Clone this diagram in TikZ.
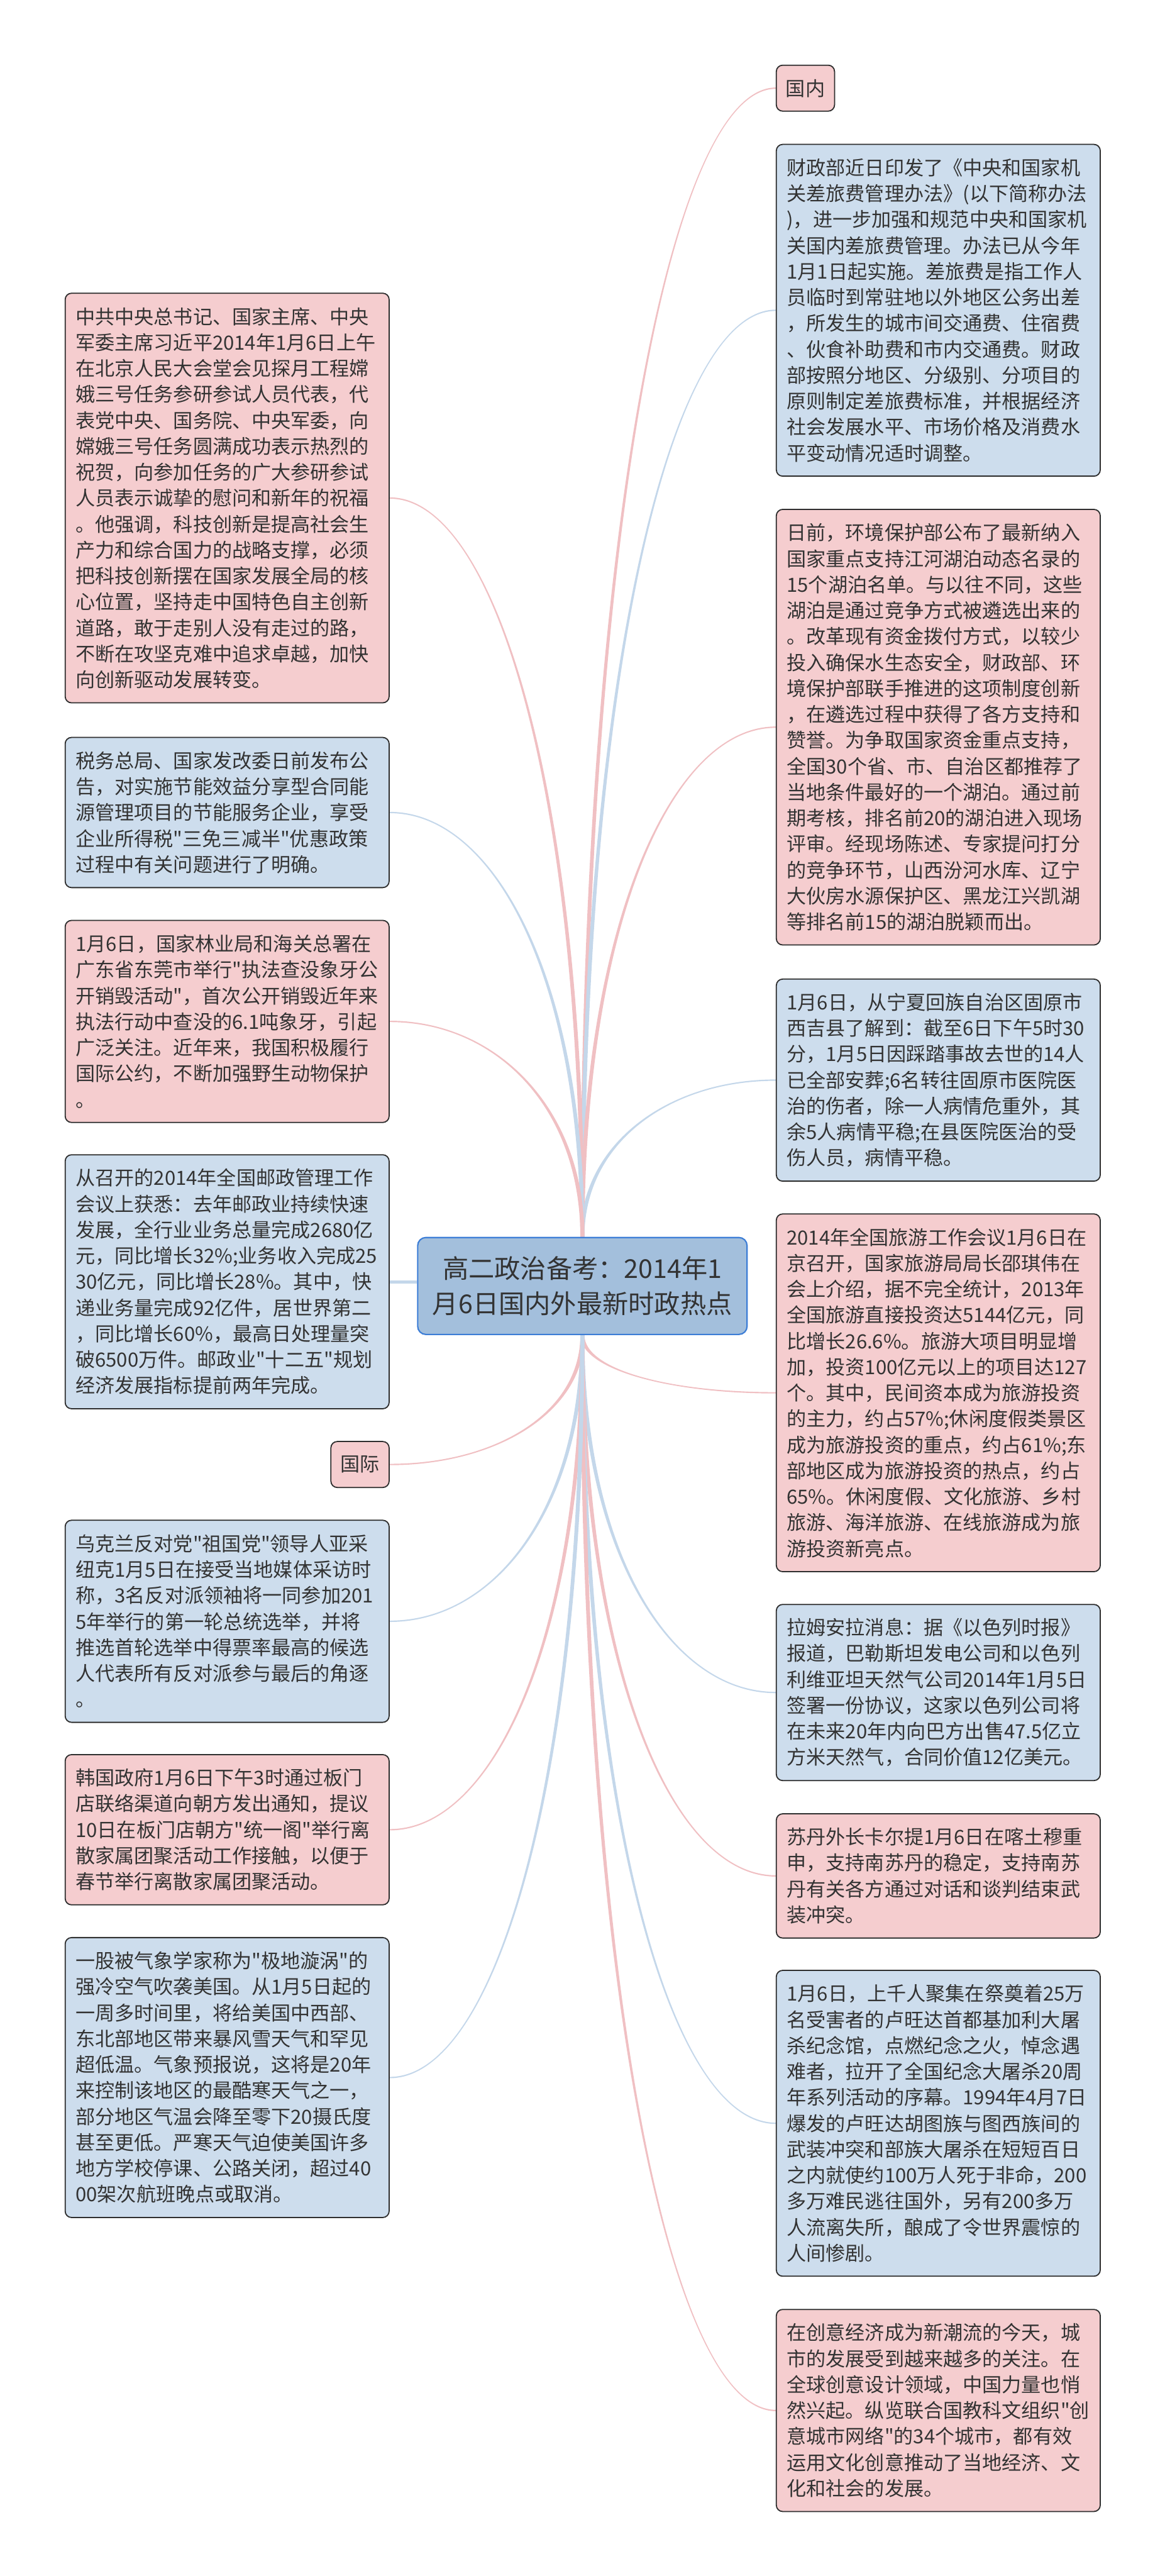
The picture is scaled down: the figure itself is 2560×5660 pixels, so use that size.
\documentclass[tikz,border=0pt]{standalone}
\usepackage{fontspec}
\setmainfont{Noto Sans CJK SC}[Ligatures=TeXOff]
\usetikzlibrary{calc}
\definecolor{pinkf}{HTML}{F5CDCF}
\definecolor{bluef}{HTML}{CDDDED}
\definecolor{edgec}{HTML}{2E2E2E}
\definecolor{cfill}{HTML}{A3BFDC}
\definecolor{cedge}{HTML}{3C7DD6}
\definecolor{pinkl}{HTML}{F0C0C3}
\definecolor{bluel}{HTML}{C4D7EA}
\definecolor{txtc}{HTML}{333333}
\pgfdeclarelayer{bg}
\pgfsetlayers{bg,main}
% tapered curved connector: #1 start, #2 end, #3 colour, #4 sign
\newcommand\tconn[4]{%
\fill[#3] let \p1=(#1), \p2=(#2) in
 ({\x1-4.5pt},\y1) .. controls ({\x1-4.5pt},{\y1+0.6*(\y2-\y1)}) and ({\x1+0.45*(\x2-\x1)},{\y2+(#4)*1.5pt}) .. (\x2,{\y2+(#4)*1.5pt})
 -- (\x2,{\y2-(#4)*1.5pt}) .. controls ({\x1+0.45*(\x2-\x1)},{\y2-(#4)*1.5pt}) and ({\x1+4.5pt},{\y1+0.6*(\y2-\y1)}) .. ({\x1+4.5pt},\y1) -- cycle;}
\begin{document}
\begin{tikzpicture}[x=1pt,y=-1pt,
  box/.style={draw=edgec, line width=2.5pt, rounded corners=14pt, anchor=north west,
    text width=666pt, inner xsep=23pt, inner ysep=6pt, align=left, minimum width=712pt,
    text=txtc, font=\fontsize{43}{57}\selectfont},
  pbox/.style={box, fill=pinkf},
  bbox/.style={box, fill=bluef},
  lbl/.style={draw=edgec, line width=2.5pt, rounded corners=14pt, fill=pinkf, anchor=north west,
    minimum width=128pt, minimum height=101pt, inner sep=0pt, text=txtc,
    font=\fontsize{43}{57}\selectfont},
  cnode/.style={draw=cedge, line width=3pt, rounded corners=18pt, fill=cfill, align=center,
    minimum width=724pt, minimum height=213pt, inner sep=0pt, text=txtc,
    font=\fontsize{57}{77}\selectfont}]
\useasboundingbox (0,0) rectangle (2560,5660);

% centre
\node[cnode] (c) at (1280,2825.5) {高二政治备考：2014年1\\月6日国内外最新时政热点};

% right column
\node[lbl] (gn) at (1705,142) {国内};
\node[bbox, minimum height=729pt] (r1) at (1705,316) {财政部近日印发了《中央和国家机\\关差旅费管理办法》(以下简称办法\\)，进一步加强和规范中央和国家机\\关国内差旅费管理。办法已从今年\\1月1日起实施。差旅费是指工作人\\员临时到常驻地以外地区公务出差\\，所发生的城市间交通费、住宿费\\、伙食补助费和市内交通费。财政\\部按照分地区、分级别、分项目的\\原则制定差旅费标准，并根据经济\\社会发展水平、市场价格及消费水\\平变动情况适时调整。};
\node[pbox, minimum height=957pt] (r2) at (1705,1118) {日前，环境保护部公布了最新纳入\\国家重点支持江河湖泊动态名录的\\15个湖泊名单。与以往不同，这些\\湖泊是通过竞争方式被遴选出来的\\。改革现有资金拨付方式，以较少\\投入确保水生态安全，财政部、环\\境保护部联手推进的这项制度创新\\，在遴选过程中获得了各方支持和\\赞誉。为争取国家资金重点支持，\\全国30个省、市、自治区都推荐了\\当地条件最好的一个湖泊。通过前\\期考核，排名前20的湖泊进入现场\\评审。经现场陈述、专家提问打分\\的竞争环节，山西汾河水库、辽宁\\大伙房水源保护区、黑龙江兴凯湖\\等排名前15的湖泊脱颖而出。};
\node[bbox, minimum height=444pt] (r3) at (1705,2150) {1月6日，从宁夏回族自治区固原市\\西吉县了解到：截至6日下午5时30\\分，1月5日因踩踏事故去世的14人\\已全部安葬;6名转往固原市医院医\\治的伤者，除一人病情危重外，其\\余5人病情平稳;在县医院医治的受\\伤人员，病情平稳。};
\node[pbox, minimum height=786pt] (r4) at (1705,2666) {2014年全国旅游工作会议1月6日在\\京召开，国家旅游局局长邵琪伟在\\会上介绍，据不完全统计，2013年\\全国旅游直接投资达5144亿元，同\\比增长26.6\%。旅游大项目明显增\\加，投资100亿元以上的项目达127\\个。其中，民间资本成为旅游投资\\的主力，约占57\%;休闲度假类景区\\成为旅游投资的重点，约占61\%;东\\部地区成为旅游投资的热点，约占\\65\%。休闲度假、文化旅游、乡村\\旅游、海洋旅游、在线旅游成为旅\\游投资新亮点。};
\node[bbox, minimum height=387pt] (r5) at (1705,3524) {拉姆安拉消息：据《以色列时报》\\报道，巴勒斯坦发电公司和以色列\\利维亚坦天然气公司2014年1月5日\\签署一份协议，这家以色列公司将\\在未来20年内向巴方出售47.5亿立\\方米天然气，合同价值12亿美元。};
\node[pbox, minimum height=273pt] (r6) at (1705,3984) {苏丹外长卡尔提1月6日在喀土穆重\\申，支持南苏丹的稳定，支持南苏\\丹有关各方通过对话和谈判结束武\\装冲突。};
\node[bbox, minimum height=672pt] (r7) at (1705,4328) {1月6日，上千人聚集在祭奠着25万\\名受害者的卢旺达首都基加利大屠\\杀纪念馆，点燃纪念之火，悼念遇\\难者，拉开了全国纪念大屠杀20周\\年系列活动的序幕。1994年4月7日\\爆发的卢旺达胡图族与图西族间的\\武装冲突和部族大屠杀在短短百日\\之内就使约100万人死于非命，200\\多万难民逃往国外，另有200多万\\人流离失所，酿成了令世界震惊的\\人间惨剧。};
\node[pbox, minimum height=444pt] (r8) at (1705,5073) {在创意经济成为新潮流的今天，城\\市的发展受到越来越多的关注。在\\全球创意设计领域，中国力量也悄\\然兴起。纵览联合国教科文组织"创\\意城市网络"的34个城市，都有效\\运用文化创意推动了当地经济、文\\化和社会的发展。};

% left column
\node[pbox, minimum height=900pt] (l1) at (142,643) {中共中央总书记、国家主席、中央\\军委主席习近平2014年1月6日上午\\在北京人民大会堂会见探月工程嫦\\娥三号任务参研参试人员代表，代\\表党中央、国务院、中央军委，向\\嫦娥三号任务圆满成功表示热烈的\\祝贺，向参加任务的广大参研参试\\人员表示诚挚的慰问和新年的祝福\\。他强调，科技创新是提高社会生\\产力和综合国力的战略支撑，必须\\把科技创新摆在国家发展全局的核\\心位置，坚持走中国特色自主创新\\道路，敢于走别人没有走过的路，\\不断在攻坚克难中追求卓越，加快\\向创新驱动发展转变。};
\node[bbox, minimum height=330pt] (l2) at (142,1619) {税务总局、国家发改委日前发布公\\告，对实施节能效益分享型合同能\\源管理项目的节能服务企业，享受\\企业所得税"三免三减半"优惠政策\\过程中有关问题进行了明确。};
\node[pbox, minimum height=444pt] (l3) at (142,2021) {1月6日，国家林业局和海关总署在\\广东省东莞市举行"执法查没象牙公\\开销毁活动"，首次公开销毁近年来\\执法行动中查没的6.1吨象牙，引起\\广泛关注。近年来，我国积极履行\\国际公约，不断加强野生动物保护\\。};
\node[bbox, minimum height=558pt] (l4) at (142,2536) {从召开的2014年全国邮政管理工作\\会议上获悉：去年邮政业持续快速\\发展，全行业业务总量完成2680亿\\元，同比增长32\%;业务收入完成25\\30亿元，同比增长28\%。其中，快\\递业务量完成92亿件，居世界第二\\，同比增长60\%，最高日处理量突\\破6500万件。邮政业"十二五"规划\\经济发展指标提前两年完成。};
\node[lbl] (gj) at (726,3166) {国际};
\node[bbox, minimum height=444pt] (l5) at (142,3339) {乌克兰反对党"祖国党"领导人亚采\\纽克1月5日在接受当地媒体采访时\\称，3名反对派领袖将一同参加201\\5年举行的第一轮总统选举，并将\\推选首轮选举中得票率最高的候选\\人代表所有反对派参与最后的角逐\\。};
\node[pbox, minimum height=330pt] (l6) at (142,3854) {韩国政府1月6日下午3时通过板门\\店联络渠道向朝方发出通知，提议\\10日在板门店朝方"统一阁"举行离\\散家属团聚活动工作接触，以便于\\春节举行离散家属团聚活动。};
\node[bbox, minimum height=615pt] (l7) at (142,4256) {一股被气象学家称为"极地漩涡"的\\强冷空气吹袭美国。从1月5日起的\\一周多时间里，将给美国中西部、\\东北部地区带来暴风雪天气和罕见\\超低温。气象预报说，这将是20年\\来控制该地区的最酷寒天气之一，\\部分地区气温会降至零下20摄氏度\\甚至更低。严寒天气迫使美国许多\\地方学校停课、公路关闭，超过40\\00架次航班晚点或取消。};

% connectors
\begin{pgfonlayer}{bg}
\tconn{c.north}{gn.west}{pinkl}{1}
\tconn{c.north}{r1.west}{bluel}{1}
\tconn{c.north}{r2.west}{pinkl}{1}
\tconn{c.north}{r3.west}{bluel}{1}
\tconn{c.south}{r4.west}{pinkl}{-1}
\tconn{c.south}{r5.west}{bluel}{-1}
\tconn{c.south}{r6.west}{pinkl}{-1}
\tconn{c.south}{r7.west}{bluel}{-1}
\tconn{c.south}{r8.west}{pinkl}{-1}
\tconn{c.north}{l1.east}{pinkl}{-1}
\tconn{c.north}{l2.east}{bluel}{-1}
\tconn{c.north}{l3.east}{pinkl}{-1}
\draw[bluel, line width=7pt] (l4.east) -- (l4.east -| c.west);
\tconn{c.south}{gj.east}{pinkl}{1}
\tconn{c.south}{l5.east}{bluel}{1}
\tconn{c.south}{l6.east}{pinkl}{1}
\tconn{c.south}{l7.east}{bluel}{1}
\end{pgfonlayer}
\end{tikzpicture}
\end{document}
